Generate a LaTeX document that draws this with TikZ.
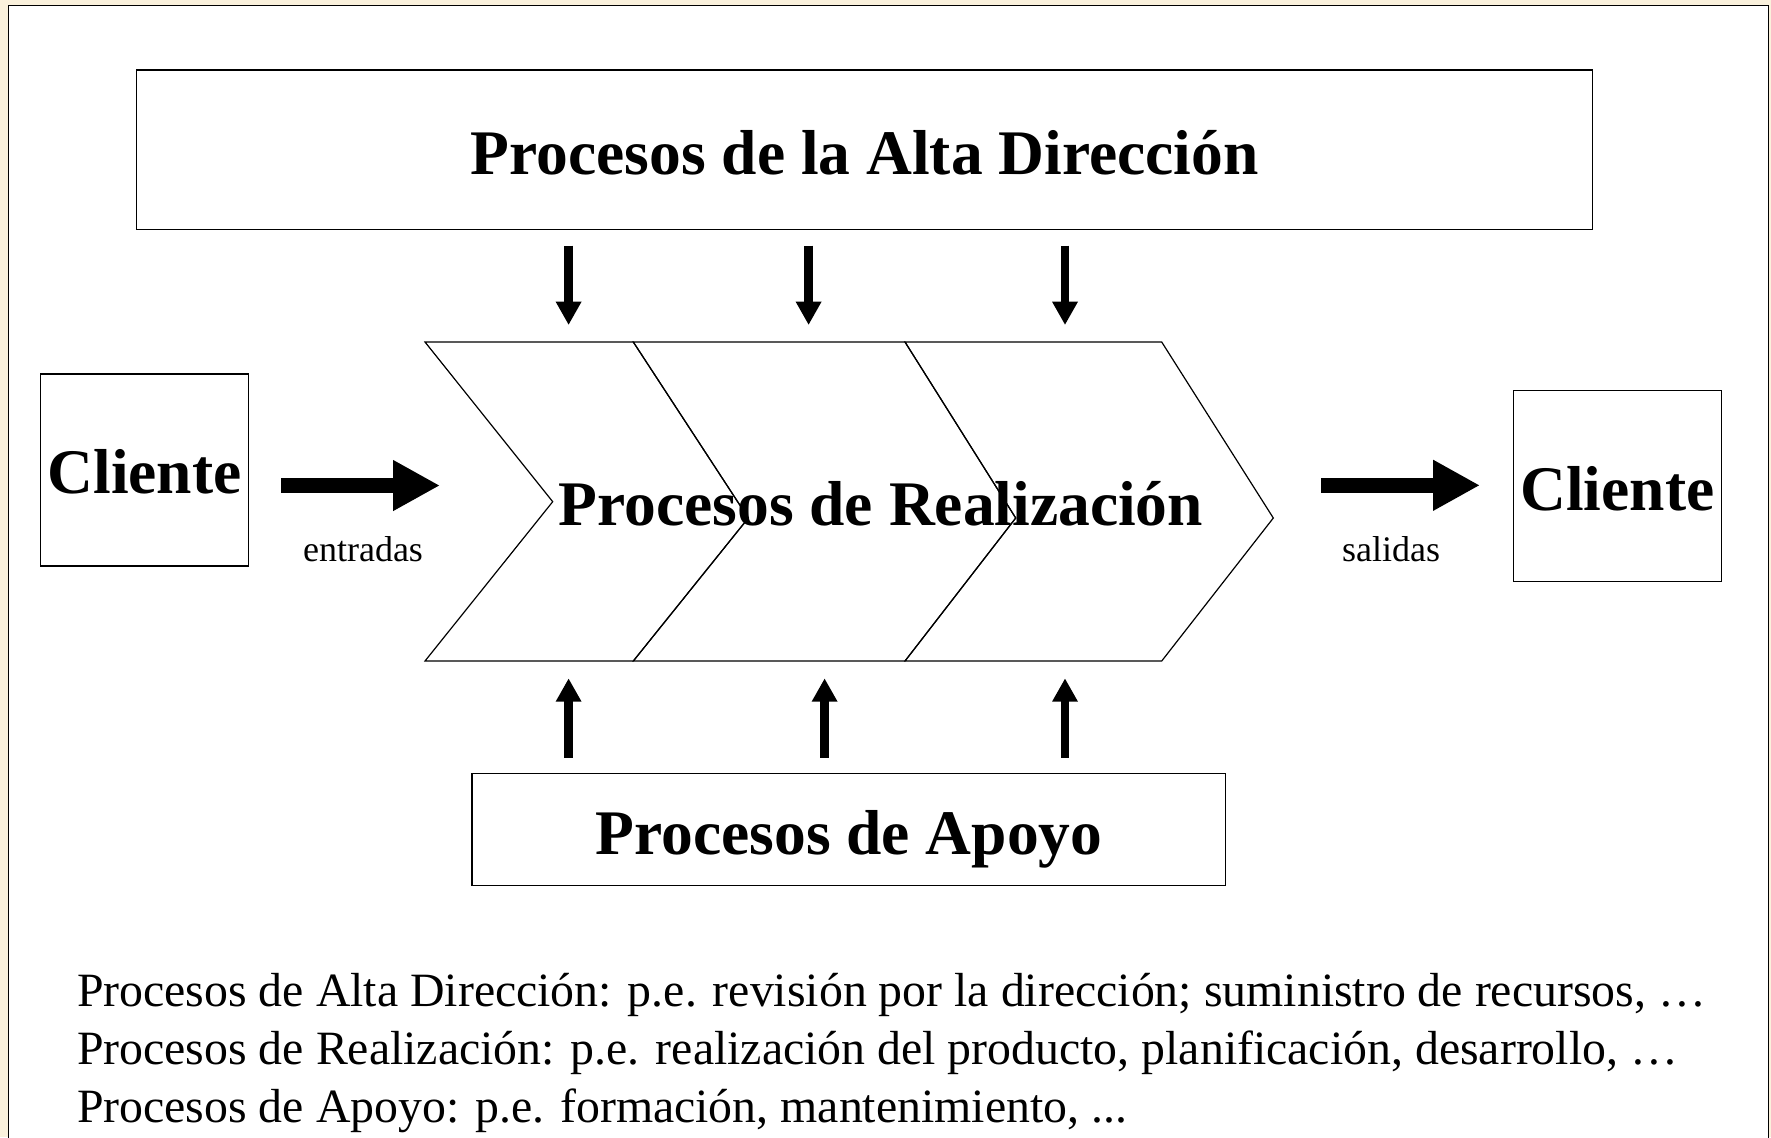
\documentclass[tikz,border=0pt]{standalone}
\usepackage{fontspec}
\setmainfont{Liberation Serif}
\usetikzlibrary{arrows.meta}
\definecolor{beige}{RGB}{250,241,220}
\begin{document}
\begin{tikzpicture}[x=0.5pt,y=-0.5pt,
  box/.style={draw, line width=0.65pt, inner sep=0pt},
  big/.style={font=\fontsize{31.75pt}{38pt}\selectfont\bfseries, inner sep=0pt, anchor=base},
  smalltxt/.style={font=\fontsize{18pt}{21pt}\selectfont, inner sep=0pt, anchor=base},
  note/.style={font=\fontsize{23.9pt}{29pt}\selectfont, inner sep=0pt, anchor=base west},
  thinarrow/.style={line width=4.3pt, -{Triangle[length=11.7pt,width=12.1pt]}},
  thickarrow/.style={line width=7.8pt, -{Triangle[length=23.5pt,width=23.8pt]}},
  chev/.style={draw, line width=0.6pt, line join=miter}
]
\useasboundingbox (0,0) rectangle (1771,1137);
\fill[beige] (0,0) rectangle (1771,1137);
\draw[fill=white, line width=0.75pt] (8.3,5.7) rectangle (1768.5,1150);

% boxes
\node[box, minimum width=727.95pt, minimum height=79.65pt] (alta) at (864.65,149.65) {};
\node[box, minimum width=103.9pt, minimum height=96pt] (cl1) at (144.6,469.9) {};
\node[box, minimum width=103.95pt, minimum height=95.45pt] (cl2) at (1617.45,486.25) {};
\node[box, minimum width=376.7pt, minimum height=55.9pt] (apoyo) at (848.8,829.6) {};

% chevrons
\coordinate (t0) at (425,342);   \coordinate (b0) at (425,661);   \coordinate (m0) at (552.7,501.7);
\coordinate (t1) at (633.3,342); \coordinate (b1) at (633.3,661); \coordinate (m1) at (748.3,518);
\coordinate (t2) at (905,342);   \coordinate (b2) at (905,661);   \coordinate (m2) at (1015.7,518);
\coordinate (t3) at (1161.7,342);\coordinate (b3) at (1161.7,661);\coordinate (m3) at (1273.3,518);
\draw[chev] (t0) -- (t1) -- (m1) -- (b1) -- (b0) -- (m0) -- cycle;
\draw[chev] (t1) -- (t2) -- (m2) -- (b2) -- (b1) -- (m1) -- cycle;
\draw[chev] (t2) -- (t3) -- (m3) -- (b3) -- (b2) -- (m2) -- cycle;

% texts
\node[big] (altatxt) at (864.6,174) {Procesos de la Alta Dirección};
\node[big] (cl1txt) at (144.6,493) {Cliente};
\node[big] (cl2txt) at (1617.4,510) {Cliente};
\node[big] (apoyotxt) at (849,854) {Procesos de Apoyo};
\node[big] (realtxt) at (880.8,525) {Procesos de Realización};
\node[smalltxt] (entr) at (363,561.7) {entradas};
\node[smalltxt] (sal) at (1391,561.7) {salidas};

% arrows down
\coordinate (d1s) at (568.6,245.7); \coordinate (d1e) at (568.6,325);
\coordinate (d2s) at (808.6,245.7); \coordinate (d2e) at (808.6,325);
\coordinate (d3s) at (1065,245.7);  \coordinate (d3e) at (1065,325);
\draw[thinarrow] (d1s) -- (d1e);
\draw[thinarrow] (d2s) -- (d2e);
\draw[thinarrow] (d3s) -- (d3e);
% arrows up
\coordinate (u1s) at (568.6,757.7); \coordinate (u1e) at (568.6,678.3);
\coordinate (u2s) at (824.6,757.7); \coordinate (u2e) at (824.6,678.3);
\coordinate (u3s) at (1065,757.7);  \coordinate (u3e) at (1065,678.3);
\draw[thinarrow] (u1s) -- (u1e);
\draw[thinarrow] (u2s) -- (u2e);
\draw[thinarrow] (u3s) -- (u3e);
% horizontal arrows
\coordinate (es) at (281,485.5);  \coordinate (ee) at (440,485.5);
\coordinate (ss) at (1321,485.3); \coordinate (se) at (1480,485.3);
\draw[thickarrow] (es) -- (ee);
\draw[thickarrow] (ss) -- (se);

% notes
\node[note] (n1) at (76.7,1006.7) {Procesos de Alta Dirección: p.e. revisión por la dirección; suministro de recursos, …};
\node[note] (n2) at (76.7,1064.5) {Procesos de Realización: p.e. realización del producto, planificación, desarrollo, …};
\node[note] (n3) at (76.7,1122.3) {Procesos de Apoyo: p.e. formación, mantenimiento, ...};
\end{tikzpicture}
\end{document}
